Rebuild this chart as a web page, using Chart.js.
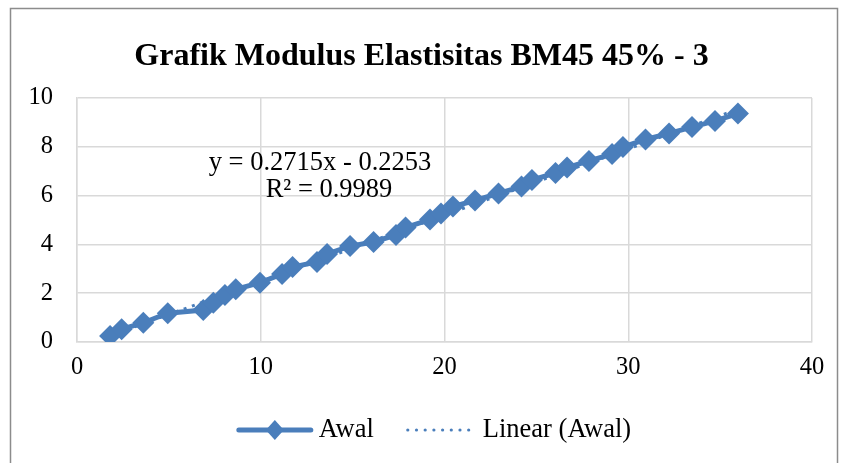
<!DOCTYPE html>
<html>
<head>
<meta charset="utf-8">
<script src="https://cdn.jsdelivr.net/npm/chart.js@4/dist/chart.umd.min.js"></script>
<style>
  html, body { margin: 0; padding: 0; background: #fff; }
  #wrap { width: 841px; height: 463px; }
</style>
</head>
<body>
<div id="wrap"><canvas id="myChart" width="841" height="463"></canvas></div>
<script>
// data
let regangan = [1.8, 2.43, 3.61, 4.94, 6.87, 7.42, 8.05, 8.64, 9.96, 11.16, 11.73, 13.06, 13.61, 14.86, 16.14, 17.36, 17.88, 19.21, 19.81, 20.46, 21.66, 22.94, 24.19, 24.76, 26.04, 26.67, 27.86, 29.12, 29.71, 30.94, 32.22, 33.47, 34.72, 35.97];
let tegangan = [0.25, 0.52, 0.79, 1.18, 1.31, 1.61, 1.93, 2.16, 2.43, 2.79, 3.07, 3.28, 3.61, 3.93, 4.10, 4.39, 4.69, 5.02, 5.27, 5.55, 5.80, 6.09, 6.37, 6.64, 6.93, 7.15, 7.42, 7.70, 7.99, 8.30, 8.55, 8.81, 9.06, 9.36];

// linear trend (y = 0.2715x - 0.2253), ends of the line
let trendX = [1.8, 35.97];
let trendY = [0.26, 9.54];

let xTicks = [0, 10, 20, 30, 40];
let yTicks = [0, 2, 4, 6, 8, 10];

let chartTitle = "Grafik Modulus Elastisitas BM45 45% - 3";
let seriesName = "Awal";
let trendName = "Linear (Awal)";
let eqLines = ["y = 0.2715x - 0.2253", "R\u00b2 = 0.9989"];

let blue = "#4a7ebb";
let gridColor = "#d9d9d9";
let serif = "'Liberation Serif', 'Times New Roman', serif";

function toPoints(xs, ys) {
  return xs.map((x, i) => ({ x: x, y: ys[i] }));
}

// plugins
let frame = {
  id: "frame",
  beforeDraw(chart) {
    let ctx = chart.ctx;
    ctx.save();
    ctx.fillStyle = "#fff";
    ctx.fillRect(0, 0, chart.width, chart.height);
    ctx.strokeStyle = "#8c8c8c";
    ctx.lineWidth = 1.5;
    ctx.strokeRect(10.5, 8.5, 827, 520);
    ctx.restore();
  },
};

let extras = {
  id: "extras",
  afterDraw(chart) {
    let ctx = chart.ctx;
    ctx.save();

    // title (centred on the outer frame, not the plot)
    ctx.fillStyle = "#000";
    ctx.font = "bold 32px " + serif;
    ctx.textAlign = "center";
    ctx.textBaseline = "middle";
    ctx.fillText(chartTitle, 421.5, 57);

    // trendline equation
    ctx.font = "26.5px " + serif;
    ctx.fillText(eqLines[0], 320, 163);
    ctx.fillText(eqLines[1], 329, 190);

    // legend
    ctx.font = "26.5px " + serif;
    ctx.textAlign = "left";
    let w1 = ctx.measureText(seriesName).width;
    let w2 = ctx.measureText(trendName).width;
    let total = 72 + 8 + w1 + 32 + 65 + 12 + w2;
    let x = 435 - total / 2;
    let y = 430;

    ctx.strokeStyle = blue;
    ctx.lineWidth = 5;
    ctx.lineCap = "round";
    ctx.beginPath();
    ctx.moveTo(x, y);
    ctx.lineTo(x + 72, y);
    ctx.stroke();
    ctx.fillStyle = blue;
    ctx.beginPath();
    ctx.moveTo(x + 36, y - 10);
    ctx.lineTo(x + 45, y);
    ctx.lineTo(x + 36, y + 10);
    ctx.lineTo(x + 27, y);
    ctx.closePath();
    ctx.fill();
    x += 80;
    ctx.fillStyle = "#000";
    ctx.fillText(seriesName, x, y);
    x += w1 + 32;

    ctx.fillStyle = blue;
    for (let i = 0; i < 8; i++) {
      ctx.beginPath();
      ctx.arc(x + 2 + i * 8.7, y, 1.6, 0, Math.PI * 2);
      ctx.fill();
    }
    x += 77;
    ctx.fillStyle = "#000";
    ctx.fillText(trendName, x, y);

    ctx.restore();
  },
};

// renderers
function renderChart() {
  const ctx = document.getElementById("myChart").getContext("2d");
  const myChart = new Chart(ctx, {
    type: "scatter",
    data: {
      datasets: [
        {
          label: seriesName,
          data: toPoints(regangan, tegangan),
          showLine: true,
          borderColor: blue,
          backgroundColor: blue,
          borderWidth: 5,
          pointStyle: "rectRot",
          pointRadius: 11,
          pointBorderWidth: 0,
        },
        {
          label: trendName,
          data: toPoints(trendX, trendY),
          showLine: true,
          borderColor: blue,
          borderWidth: 3,
          borderDash: [3, 5.7],
          pointRadius: 0,
        },
      ],
    },
    options: {
      responsive: false,
      animation: false,
      events: [],
      layout: { padding: { left: 0, right: 29, top: 98, bottom: 0 } },
      plugins: {
        legend: { display: false },
        tooltip: { enabled: false },
        title: { display: false },
      },
      scales: {
        x: {
          type: "linear",
          min: 0,
          max: 40,
          afterBuildTicks: (scale) => {
            scale.ticks = xTicks.map((v) => ({ value: v }));
          },
          afterFit: (scale) => {
            scale.height = 121;
          },
          grid: { color: gridColor, lineWidth: 1.5, drawTicks: false },
          border: { color: gridColor, width: 1.5 },
          ticks: {
            color: "#000",
            padding: 11,
            font: { family: serif, size: 24.5 },
          },
        },
        y: {
          type: "linear",
          min: 0,
          max: 10,
          afterBuildTicks: (scale) => {
            scale.ticks = yTicks.map((v) => ({ value: v }));
          },
          afterFit: (scale) => {
            scale.width = 77;
          },
          grid: { color: gridColor, lineWidth: 1.5, drawTicks: false },
          border: { color: gridColor, width: 1.5 },
          ticks: {
            color: "#000",
            padding: 24,
            font: { family: serif, size: 24.5 },
          },
        },
      },
    },
    plugins: [frame, extras],
  });
  return myChart;
}

renderChart();
</script>
</body>
</html>
